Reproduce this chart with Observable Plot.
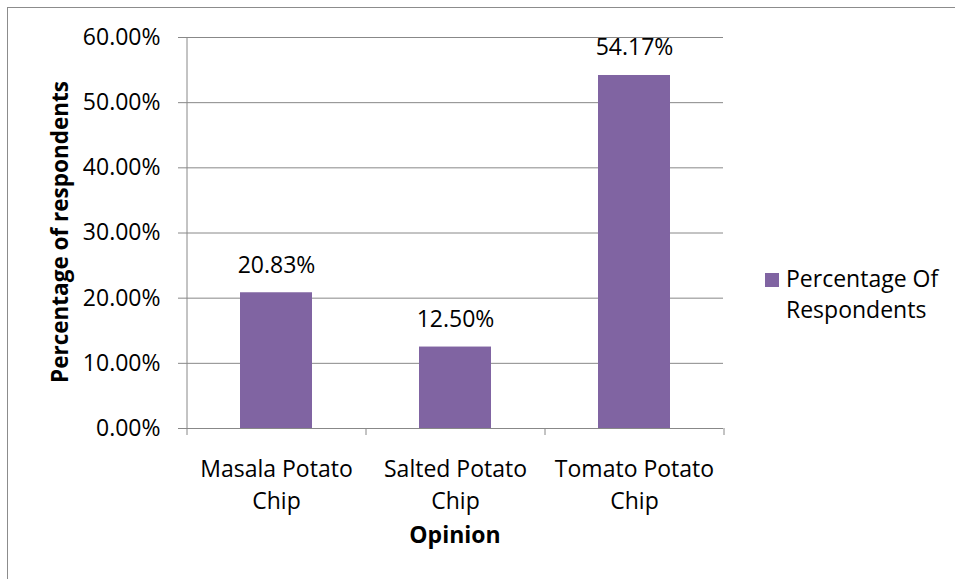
<!DOCTYPE html>
<html>
<head>
<meta charset="utf-8">
<script src="https://cdn.jsdelivr.net/npm/d3@7"></script>
<script src="https://cdn.jsdelivr.net/npm/@observablehq/plot@0.6"></script>
<style>
  html, body { margin: 0; padding: 0; background: #fff; }
  #wrap { position: relative; width: 955px; height: 579px; overflow: hidden; background: #fff; font-family: "Open Sans", sans-serif; }
  #chart svg { display: block; }
  #border { position: absolute; left: 7px; top: 7px; width: 2000px; height: 2000px; border: 1px solid #8c8c8c; pointer-events: none; }
  #legend { position: absolute; left: 765px; top: 263px; font-size: 23px; line-height: 31px; color: #000; }
  #legend .sw { position: absolute; left: 0; top: 10px; width: 14px; height: 14px; }
  #legend .tx { position: absolute; left: 21px; top: 0; white-space: nowrap; }
</style>
</head>
<body>
<div id="wrap">
  <div id="chart"></div>
  <div id="legend"><div class="sw"></div><div class="tx"></div></div>
  <div id="border"></div>
</div>
<script>
const categories = ["Masala Potato Chip", "Salted Potato Chip", "Tomato Potato Chip"];
const tickLabels = ["Masala Potato\nChip", "Salted Potato\nChip", "Tomato Potato\nChip"];
const values = [20.83, 12.50, 54.17];
const valueLabels = ["20.83%", "12.50%", "54.17%"];
const yTicks = [0, 10, 20, 30, 40, 50, 60];
const seriesName = ["Percentage Of", "Respondents"];
const xTitle = "Opinion";
const yTitle = "Percentage of respondents";
const barColor = "#8064A2";
const gridColor = "#888888";

const data = categories.map((c, i) => ({category: c, value: values[i], label: valueLabels[i]}));

const W = 955, H = 579, mL = 186, mR = 232, mT = 37, mB = 151;
const step = (W - mL - mR) / categories.length;
const FS = 23;

const chart = Plot.plot({
  width: W, height: H,
  marginLeft: mL, marginRight: mR, marginTop: mT, marginBottom: mB,
  style: {fontFamily: "'Open Sans', sans-serif", fontSize: FS + "px", color: "#000", background: "transparent"},
  x: {domain: categories, paddingInner: 0.6, paddingOuter: 0.3, axis: null},
  y: {domain: [0, 60], axis: null},
  marks: [
    Plot.ruleY(yTicks, {stroke: gridColor, strokeWidth: 1, insetLeft: -8}),
    Plot.ruleX([categories[0]], {dx: -step / 2, stroke: gridColor, insetBottom: -7}),
    Plot.ruleX(categories.slice(1), {dx: -step / 2, y1: 0, y2: 0, stroke: gridColor, insetBottom: -7}),
    Plot.ruleX([categories[categories.length - 1]], {dx: step / 2, y1: 0, y2: 0, stroke: gridColor, insetBottom: -7}),
    Plot.barY(data, {x: "category", y: "value", fill: barColor}),
    Plot.text(data, {x: "category", y: "value", text: "label", lineAnchor: "bottom", dy: -20, fontSize: FS, fill: "#000"}),
    Plot.axisY({ticks: yTicks, tickSize: 0, tickPadding: 26, tickFormat: d => d.toFixed(2) + "%", label: null, fontSize: FS}),
    Plot.axisX({tickSize: 0, tickPadding: 26, tickFormat: d => tickLabels[categories.indexOf(d)], lineHeight: 1.39, label: null, fontSize: FS}),
    Plot.text([xTitle], {frameAnchor: "bottom", lineAnchor: "bottom", dy: 114, fontWeight: "bold", fontSize: FS, fill: "#000"}),
    Plot.text([yTitle], {frameAnchor: "left", textAnchor: "middle", rotate: -90, lineAnchor: "bottom", dx: -119, dy: -1, fontWeight: "bold", fontSize: 22.5, fill: "#000"})
  ]
});
document.getElementById("chart").appendChild(chart);
document.querySelector("#legend .sw").style.background = barColor;
document.querySelector("#legend .tx").innerHTML = seriesName.join("<br>");
</script>
</body>
</html>
